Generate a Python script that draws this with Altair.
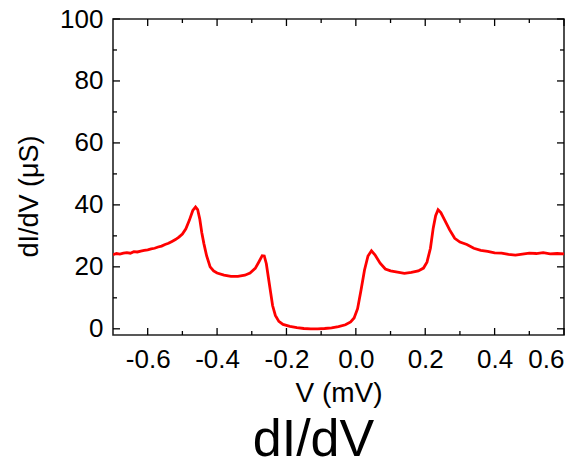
import altair as alt
import pandas as pd

# ---- data ----
V = [-0.700, -0.690, -0.680, -0.670, -0.660, -0.650, -0.640, -0.630, -0.620, -0.610,
     -0.600, -0.590, -0.580, -0.570, -0.560, -0.550, -0.540, -0.530, -0.520, -0.510,
     -0.500, -0.490, -0.480, -0.470, -0.462, -0.456, -0.450, -0.444, -0.438, -0.430,
     -0.420, -0.410, -0.400, -0.380, -0.360, -0.340, -0.320, -0.305, -0.290, -0.280,
     -0.270, -0.264, -0.258, -0.252, -0.246, -0.240, -0.232, -0.222, -0.210, -0.190,
     -0.170, -0.150, -0.130, -0.110, -0.090, -0.070, -0.050, -0.030, -0.015, -0.005,
     0.005, 0.015, 0.025, 0.035, 0.045, 0.055, 0.070, 0.085, 0.100, 0.120,
     0.140, 0.160, 0.180, 0.195, 0.205, 0.215, 0.223, 0.230, 0.237, 0.245,
     0.255, 0.270, 0.285, 0.300, 0.320, 0.340, 0.360, 0.380, 0.400, 0.420,
     0.440, 0.460, 0.480, 0.500, 0.520, 0.540, 0.560, 0.580, 0.600]
G = [23.9, 24.3, 24.1, 24.4, 24.6, 24.4, 24.9, 24.8, 25.1, 25.3,
     25.5, 25.8, 26.0, 26.4, 26.7, 27.2, 27.6, 28.2, 28.8, 29.6,
     30.6, 32.3, 35.0, 38.2, 39.3, 38.5, 35.5, 31.0, 27.5, 23.5,
     20.0, 18.7, 18.0, 17.3, 16.9, 16.9, 17.3, 18.0, 19.5, 21.5,
     23.6, 23.5, 21.0, 16.5, 12.0, 7.5, 4.3, 2.4, 1.4, 0.8,
     0.4, 0.1, 0.0, 0.0, 0.1, 0.3, 0.7, 1.3, 2.2, 3.5,
     6.5, 12.5, 19.0, 23.5, 25.2, 23.9, 21.2, 19.3, 18.7, 18.3,
     17.9, 18.2, 18.7, 19.6, 21.5, 26.0, 32.5, 36.5, 38.4, 37.5,
     35.3, 32.0, 29.2, 28.0, 27.2, 26.0, 25.3, 25.0, 24.5, 24.4,
     24.0, 23.8, 24.1, 24.4, 24.3, 24.6, 24.2, 24.3, 24.2]

x_major = [-0.6, -0.4, -0.2, 0.0, 0.2, 0.4, 0.6]
x_minor = [-0.5, -0.3, -0.1, 0.1, 0.3, 0.5]
y_major = [0, 20, 40, 60, 80, 100]
y_minor = [10, 30, 50, 70, 90]

W, H = 451, 316
FONT = "Liberation Sans"
XDOM = [-0.7, 0.6]
YDOM = [-2, 100]

df = pd.DataFrame({"V": V, "G": G})
xs = alt.Scale(domain=XDOM, nice=False, zero=False)
ys = alt.Scale(domain=YDOM, nice=False, zero=False)

line = alt.Chart(df).mark_line(color="#ff0000", strokeWidth=2.8, clip=True).encode(
    x=alt.X("V:Q", scale=xs, title="V (mV)",
            axis=alt.Axis(values=x_major, format=".1f", tickSize=0, grid=False,
                          labelExpr="replace(datum.label, '\u2212', '-')",
                          labelFontSize=26, labelPadding=11, labelColor="#000",
                          titleFontSize=28, titleFontWeight="normal", titleColor="#000",
                          titlePadding=7, domain=False, labelFont=FONT, titleFont=FONT)),
    y=alt.Y("G:Q", scale=ys, title="dI/dV (\u03bcS)",
            axis=alt.Axis(values=y_major, tickSize=0, grid=False,
                          labelFontSize=26, labelPadding=10, labelColor="#000",
                          titleFontSize=27, titleFontWeight="normal", titleColor="#000",
                          titleX=-84, titleY=177, titleAngle=270,
                          titleAlign="center", titleBaseline="middle",
                          domain=False, labelFont=FONT, titleFont=FONT)),
)

def xticks(vals, length):
    d = pd.DataFrame({"t": vals})
    base = alt.Chart(d)
    bot = base.mark_rule(color="#000", strokeWidth=1.3).encode(
        x=alt.X("t:Q", scale=xs), y=alt.value(H), y2=alt.value(H - length))
    top = base.mark_rule(color="#000", strokeWidth=1.3).encode(
        x=alt.X("t:Q", scale=xs), y=alt.value(0), y2=alt.value(length))
    return [bot, top]

def yticks(vals, length):
    d = pd.DataFrame({"t": vals})
    base = alt.Chart(d)
    left = base.mark_rule(color="#000", strokeWidth=1.3).encode(
        y=alt.Y("t:Q", scale=ys), x=alt.value(0), x2=alt.value(length))
    right = base.mark_rule(color="#000", strokeWidth=1.3).encode(
        y=alt.Y("t:Q", scale=ys), x=alt.value(W), x2=alt.value(W - length))
    return [left, right]

layers = [line] + xticks(x_major, 7) + xticks(x_minor, 4) + yticks(y_major, 7) + yticks(y_minor, 4)

chart = alt.layer(*layers).properties(
    width=W, height=H,
    background="white",
    autosize=alt.AutoSizeParams(type="none"),
    padding={"left": 113, "top": 19, "right": 24, "bottom": 133},
    title=alt.TitleParams("dI/dV", orient="bottom", anchor="middle", fontSize=52,
                          fontWeight="normal", font=FONT, color="#000", dx=-25, offset=8),
).configure_view(stroke="#222", strokeWidth=1.6)

chart.save("out.html", embed_options={"renderer": "svg", "actions": False})
